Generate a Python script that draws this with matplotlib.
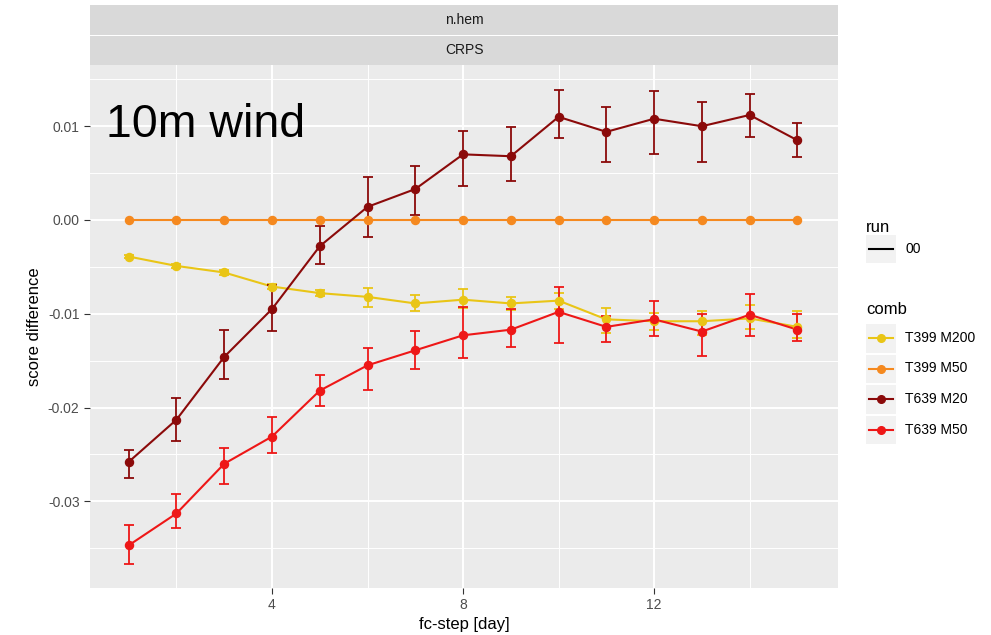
import matplotlib
matplotlib.use("Agg")
import matplotlib.pyplot as plt
import numpy as np
from matplotlib.lines import Line2D
from matplotlib.patches import Rectangle

plt.rcParams['font.family'] = ['Liberation Sans', 'DejaVu Sans']

# forecast steps (days)
days = np.arange(1, 16)

# T399 M200
t399_m200 = [-0.0039, -0.0049, -0.0056, -0.0071, -0.0078, -0.0082, -0.0089, -0.0085,
             -0.0089, -0.0086, -0.0106, -0.0108, -0.0108, -0.0105, -0.0114]
t399_m200_lo = [-0.0041, -0.0051, -0.0059, -0.0074, -0.0081, -0.0093, -0.0097, -0.0094,
                -0.0096, -0.0095, -0.0121, -0.0117, -0.0123, -0.0116, -0.0126]
t399_m200_hi = [-0.0037, -0.0047, -0.0053, -0.0068, -0.0075, -0.0073, -0.0080, -0.0074,
                -0.0082, -0.0078, -0.0094, -0.0099, -0.0097, -0.0091, -0.0097]

# T399 M50 (reference)
t399_m50 = [0.0] * 15

# T639 M20
t639_m20 = [-0.0258, -0.0213, -0.0146, -0.0095, -0.0028, 0.0014, 0.0033, 0.0070,
            0.0068, 0.0110, 0.0094, 0.0108, 0.0100, 0.0112, 0.0085]
t639_m20_lo = [-0.0275, -0.0236, -0.0170, -0.0118, -0.0047, -0.0018, 0.0005, 0.0036,
               0.0042, 0.0087, 0.0062, 0.0070, 0.0062, 0.0088, 0.0067]
t639_m20_hi = [-0.0245, -0.0190, -0.0117, -0.0069, -0.0006, 0.0046, 0.0058, 0.0095,
               0.0099, 0.0139, 0.0120, 0.0138, 0.0126, 0.0134, 0.0103]

# T639 M50
t639_m50 = [-0.0347, -0.0313, -0.0260, -0.0231, -0.0182, -0.0155, -0.0139, -0.0123,
            -0.0117, -0.0098, -0.0114, -0.0106, -0.0119, -0.0101, -0.0117]
t639_m50_lo = [-0.0367, -0.0328, -0.0282, -0.0248, -0.0198, -0.0181, -0.0159, -0.0147,
               -0.0135, -0.0131, -0.0130, -0.0124, -0.0145, -0.0124, -0.0129]
t639_m50_hi = [-0.0325, -0.0292, -0.0243, -0.0210, -0.0165, -0.0136, -0.0118, -0.0093,
               -0.0095, -0.0072, -0.0102, -0.0086, -0.0100, -0.0079, -0.0100]

comb_labels = ["T399 M200", "T399 M50", "T639 M20", "T639 M50"]
colors = ['#E9C516', '#F5891F', '#8B0A0A', '#EE1717']

series = [
    (t399_m200, t399_m200_lo, t399_m200_hi),
    (t399_m50, None, None),
    (t639_m20, t639_m20_lo, t639_m20_hi),
    (t639_m50, t639_m50_lo, t639_m50_hi),
]

fig = plt.figure(figsize=(9.91, 6.35), dpi=100)
ax = fig.add_axes([90 / 991, 1 - 588 / 635, 748 / 991, 523 / 635])
ax.set_facecolor('#EBEBEB')
for s in ax.spines.values():
    s.set_visible(False)

# grid like ggplot
ax.set_xticks([4, 8, 12])
ax.set_xticks([2, 6, 10, 14], minor=True)
yt = [-0.03, -0.02, -0.01, 0.0, 0.01]
ax.set_yticks(yt)
ax.set_yticks([-0.035, -0.025, -0.015, -0.005, 0.005, 0.015], minor=True)
ax.set_yticklabels(['-0.03', '-0.02', '-0.01', '0.00', '0.01'])
ax.grid(which='major', color='white', lw=1.4)
ax.grid(which='minor', color='white', lw=0.7)
ax.set_axisbelow(True)
ax.tick_params(which='major', length=4, color='#333333', labelsize=10, labelcolor='#4D4D4D')
ax.tick_params(which='minor', length=0)

for (vals, lo, hi), c in zip(series, colors):
    ax.plot(days, vals, color=c, lw=1.5, zorder=3)
    if lo is not None:
        v = np.array(vals)
        yerr = [v - np.array(lo), np.array(hi) - v]
        ax.errorbar(days, vals, yerr=yerr, fmt='none', ecolor=c, elinewidth=1.3,
                    capsize=3.5, capthick=1.3, zorder=3)
    ax.plot(days, vals, 'o', color=c, ms=5.8, zorder=4)

ax.set_xlim(0.19, 15.85)
ax.set_ylim(-0.03925, 0.01653)
ax.set_xlabel('fc-step [day]', fontsize=12, labelpad=3)
ax.set_ylabel('score difference', fontsize=12, labelpad=4)
ax.text(0.021, 0.928, '10m wind', transform=ax.transAxes, fontsize=33.5,
        va='top', ha='left', color='black')

# facet strips
for y0, y1, label in [(5, 35, 'n.hem'), (36, 65, 'CRPS')]:
    sax = fig.add_axes([90 / 991, 1 - y1 / 635, 748 / 991, (y1 - y0) / 635])
    sax.set_facecolor('#D9D9D9')
    sax.set_xticks([])
    sax.set_yticks([])
    for s in sax.spines.values():
        s.set_visible(False)
    sax.text(0.5, 0.5, label, ha='center', va='center', fontsize=10, color='#1A1A1A')

# legends
lax = fig.add_axes([850 / 991, 0, 141 / 991, 1])
lax.set_xlim(0, 141)
lax.set_ylim(635, 0)
lax.axis('off')
lax.text(16, 228, 'run', fontsize=12, va='center', ha='left')
lax.add_patch(Rectangle((16, 235), 30, 28, color='#F2F2F2', lw=0))
lax.add_line(Line2D([19, 43], [249, 249], color='black', lw=1.5))
lax.text(55, 249, '00', fontsize=10, va='center', ha='left')

lax.text(16, 310, 'comb', fontsize=12, va='center', ha='left')
for i, (lab, c) in enumerate(zip(comb_labels, colors)):
    yc = 338 + i * 30.5
    lax.add_patch(Rectangle((16, yc - 14), 30, 28.5, color='#F2F2F2', lw=0))
    lax.add_line(Line2D([19, 43], [yc, yc], color=c, lw=1.5))
    lax.add_line(Line2D([31], [yc], color=c, marker='o', ms=5.5))
    lax.text(55, yc, lab, fontsize=10, va='center', ha='left')

fig.savefig('out.png', dpi=100)
